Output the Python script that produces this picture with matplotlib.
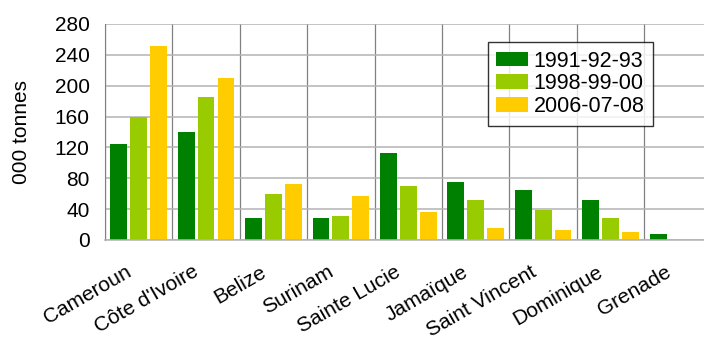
import matplotlib
matplotlib.use("Agg")
import matplotlib.pyplot as plt
from matplotlib.patches import Rectangle
from matplotlib.legend_handler import HandlerPatch
import numpy as np

plt.rcParams['font.family'] = ['Liberation Sans', 'DejaVu Sans']

# Banana exports by country, thousand tonnes
countries = ["Cameroun", "Côte d'Ivoire", "Belize", "Surinam", "Sainte Lucie",
             "Jamaïque", "Saint Vincent", "Dominique", "Grenade"]
periods = ["1991-92-93", "1998-99-00", "2006-07-08"]
v_1991 = [125, 140, 28, 28, 113, 75, 65, 52, 8]
v_1998 = [160, 185, 60, 31, 70, 52, 39, 28, 0]
v_2006 = [252, 210, 72, 57, 36, 15, 13, 10, 0]
y_ticks = [0, 40, 80, 120, 160, 200, 240, 280]

colors = ["#008000", "#99cc00", "#ffcc00"]
FS = 15


def square_key(legend, orig_handle, xdescent, ydescent, width, height, fontsize):
    # small square pushed to the right end of the handle box
    s = 0.66 * fontsize
    return Rectangle((-xdescent + width - s, -ydescent + (height - s) / 2), s, s)


def main():
    fig = plt.figure(figsize=(7.04, 3.38), dpi=100)
    ax = fig.add_axes([0.149, 0.290, 0.862, 0.639])

    x = np.arange(len(countries))
    slot = 0.295
    for k, vals in enumerate([v_1991, v_1998, v_2006]):
        ax.bar(x + (k - 1) * slot, vals, width=0.25, color=colors[k],
               label=periods[k], zorder=3)

    ax.set_xlim(-0.5, len(countries) - 0.5)
    ax.set_ylim(0, 280)
    ax.set_yticks(y_ticks)
    ax.tick_params(axis='y', length=0, pad=11, labelsize=FS)

    # category separators
    ax.set_xticks(np.arange(len(countries) + 1) - 0.5, minor=True)
    ax.grid(axis='x', which='minor', color='#808080', linewidth=0.9, zorder=1)
    ax.grid(axis='y', which='major', color='#b3b3b3', linewidth=1.1, zorder=1)

    ax.set_xticks(x - 0.06)
    ax.set_xticklabels(countries, rotation=30, ha='right', va='top',
                       fontsize=FS)
    ax.tick_params(axis='x', which='both', length=0, pad=16)

    for side in ['top', 'right']:
        ax.spines[side].set_visible(False)
    ax.spines['left'].set_color('#808080')
    ax.spines['bottom'].set_color('#b3b3b3')
    ax.spines['bottom'].set_linewidth(1.1)
    ax.spines['bottom'].set_zorder(4)

    ax.set_ylabel("000 tonnes", fontsize=FS, labelpad=17)

    leg = ax.legend(loc='upper left', bbox_to_anchor=(0.631, 0.917),
                    fontsize=15.5, frameon=True, fancybox=False,
                    handler_map={Rectangle: HandlerPatch(patch_func=square_key)},
                    handlelength=1.45, handleheight=0.66, handletextpad=0.28,
                    borderpad=0.4, labelspacing=0.08, borderaxespad=0)
    leg.get_frame().set_edgecolor('black')
    leg.get_frame().set_linewidth(1.0)
    leg.set_zorder(5)

    fig.savefig("out.png", dpi=100)


if __name__ == "__main__":
    main()
